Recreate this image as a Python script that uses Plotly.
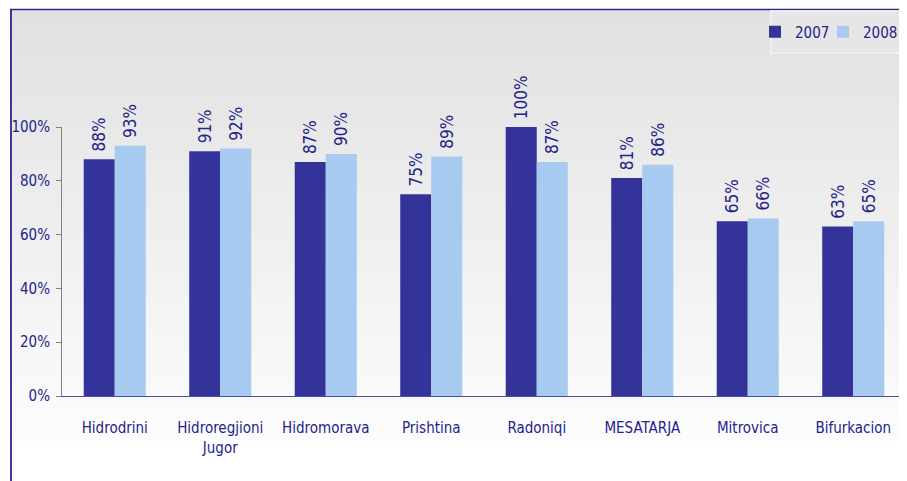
import plotly.graph_objects as go

categories = ["Hidrodrini", "Hidroregjioni<br>Jugor", "Hidromorava", "Prishtina",
              "Radoniqi", "MESATARJA", "Mitrovica", "Bifurkacion"]
values_2007 = [88, 91, 87, 75, 100, 81, 65, 63]
values_2008 = [93, 92, 90, 89, 87, 86, 66, 65]
tick_vals = [0, 20, 40, 60, 80, 100]
tick_text = ["0%", "20%", "40%", "60%", "80%", "100%"]

OFF = 8  # page body margin
W, H = 907 - OFF, 481 - OFF
L, R, T, B = 62 - OFF, 1, 127 - OFF, 85
PW, PH = W - L - R, H - T - B

def px_x(s):
    return (s - OFF - L) / PW

def px_y(s):
    return (H - B - (s - OFF)) / PH

FONT = "DejaVu Sans Condensed, Liberation Sans Narrow, sans-serif"
NAVY = "#23238c"
DARK = "#333399"
LIGHT = "#a6caf0"

fig = go.Figure()
for name, vals, col, lg in [("2007", values_2007, DARK, "legend"),
                            ("2008", values_2008, LIGHT, "legend2")]:
    fig.add_trace(go.Bar(
        x=categories, y=vals, name=name, legend=lg,
        marker=dict(color=col, line=dict(width=0)),
        text=["\u00a0" + f"{v}%" for v in vals], textposition="outside",
        textangle=-90, cliponaxis=False, constraintext="none",
        textfont=dict(family=FONT, size=17, color=NAVY),
    ))

shapes = []
# gradient background bands (decoration)
top, bottom = 10, 440
n = 43
c0, c1 = 0xE1, 0xFC
for i in range(n):
    y0 = top + (bottom - top) * i / n
    y1 = top + (bottom - top) * (i + 1) / n + 0.5
    c = int(round(c0 + (c1 - c0) * i / (n - 1)))
    col = f"rgb({c},{c},{c})"
    shapes.append(dict(type="rect", xref="paper", yref="paper", layer="below",
                       x0=px_x(12), x1=px_x(910), y0=px_y(y1), y1=px_y(y0),
                       fillcolor=col, line=dict(width=0)))
# frame lines
shapes.append(dict(type="line", xref="paper", yref="paper", x0=px_x(11), x1=px_x(11),
                   y0=px_y(9), y1=px_y(485), line=dict(color="#3a3a9a", width=2)))
shapes.append(dict(type="line", xref="paper", yref="paper", x0=px_x(10), x1=px_x(910),
                   y0=px_y(9.5), y1=px_y(9.5), line=dict(color="#2a2a8a", width=1.5)))
# legend box
shapes.append(dict(type="rect", xref="paper", yref="paper", x0=px_x(771), x1=px_x(912),
                   y0=px_y(53), y1=px_y(11), fillcolor="#e6e6e6",
                   line=dict(color="#f4f4f4", width=1.5)))

leg_common = dict(orientation="h", xanchor="left", yanchor="middle",
                  bgcolor="rgba(0,0,0,0)", borderwidth=0,
                  font=dict(family=FONT, size=15, color=NAVY), itemwidth=30)

fig.update_layout(
    width=W, height=H, margin=dict(l=L, r=R, t=T, b=B, pad=0, autoexpand=False),
    paper_bgcolor="white", plot_bgcolor="rgba(0,0,0,0)",
    barmode="group", bargap=0.412, bargroupgap=0,
    font=dict(family=FONT, color=NAVY, size=16),
    shapes=shapes,
    showlegend=True,
    legend=dict(x=px_x(755), y=px_y(32), **leg_common),
    legend2=dict(x=px_x(823), y=px_y(32), **leg_common),
    xaxis=dict(showline=True, linecolor="#4a4aa0", linewidth=1, ticks="",
               tickfont=dict(family=FONT, size=15, color=NAVY), automargin=False,
               ticklabelstandoff=18, showgrid=False, zeroline=False, fixedrange=True),
    yaxis=dict(range=[0, 100], tickvals=tick_vals, ticktext=tick_text, automargin=False,
               showline=True, linecolor="#808080", linewidth=1, ticks="outside",
               ticklen=5, tickcolor="#808080", showgrid=False, zeroline=False,
               tickfont=dict(family=FONT, size=15, color=NAVY), ticklabelstandoff=3),
)

fig.write_html("out.html")
